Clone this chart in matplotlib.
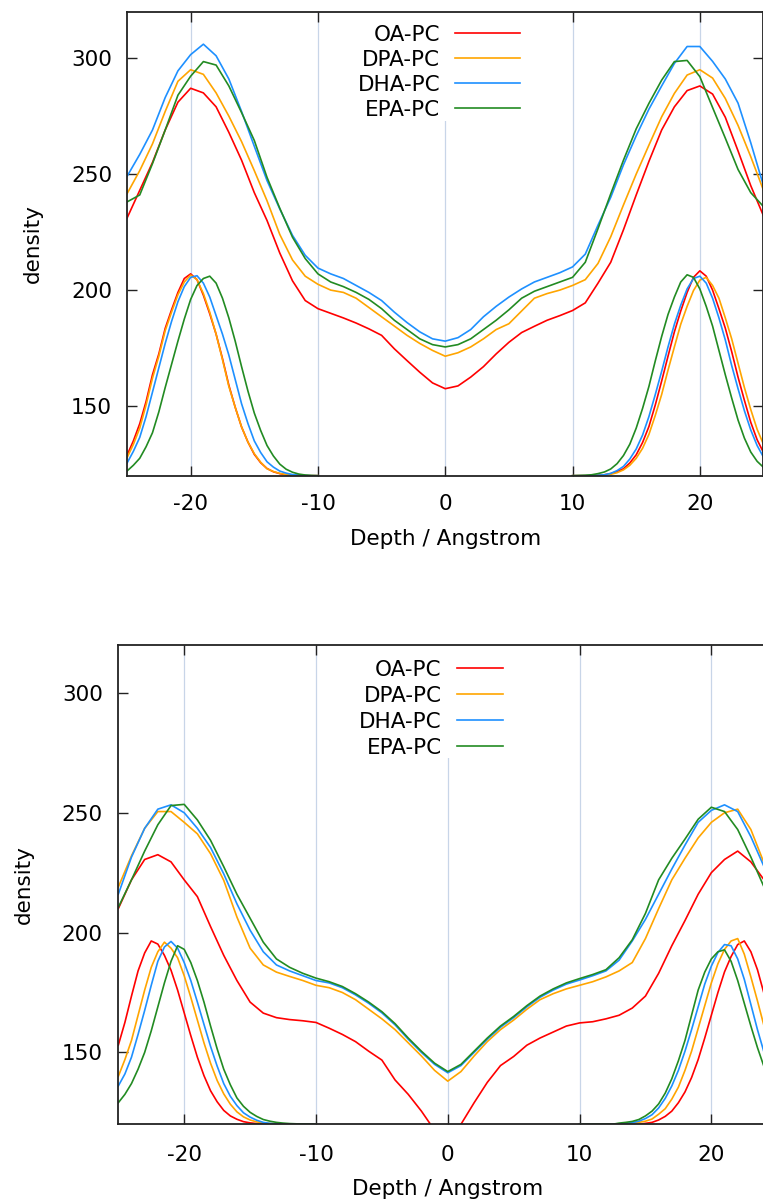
import matplotlib
matplotlib.use("Agg")
import matplotlib.pyplot as plt
from matplotlib.patches import Rectangle
import numpy as np

plt.rcParams['font.family'] = ['DejaVu Sans']
plt.rcParams['axes.unicode_minus'] = False

# depth grid (Angstrom) for the total-density profiles, 1 A steps
depth = np.arange(-25, 26)
# finer grids for the narrow headgroup peaks (0.5 A steps, each leaflet)
peak_left = np.arange(-25, -9.75, 0.5)
peak_right = np.arange(10, 25.25, 0.5)

labels = ['OA-PC', 'DPA-PC', 'DHA-PC', 'EPA-PC']
colors = ['#ff0000', '#ffa500', '#1e90ff', '#228b22']

# ---- upper panel: total density ----
top_oa = [231, 243, 255, 269, 281, 287, 285, 279, 268, 256,
          242, 230, 216, 204, 195.5, 192, 190, 188, 185.8, 183.3,
          180.5, 174.7, 169.6, 164.6, 160, 157.5, 158.7, 162.5, 167, 172.5,
          177.5, 181.7, 184.4, 187, 189, 191.2, 194.5, 203, 212, 226,
          241, 255.5, 269, 279, 286, 288, 284.5, 274.5, 260, 245, 232]
top_dpa = [241.5, 251.5, 263, 277, 290, 295, 293, 285, 275, 264,
           251.5, 238.5, 224, 213, 206, 202.5, 200, 199, 196.5, 192.5,
           188.5, 184.5, 180.5, 177, 174, 171.5, 173, 175.5, 179, 183,
           185.5, 191, 196.5, 198.5, 200, 202, 204.5, 211.5, 223, 236.7,
           250, 262.5, 274.7, 284.8, 292.7, 295, 291.4, 282.6, 271, 257.5, 243]
top_dha = [249, 258.5, 269, 283, 294.5, 301.5, 306, 301, 291, 277,
           262, 247.2, 235, 223.6, 215, 209.5, 207, 205, 202, 199,
           195.5, 190.5, 186, 182, 179, 178, 179.5, 183, 188.5, 193,
           197, 200.5, 203.5, 205.5, 207.5, 210, 215.5, 228, 240, 254,
           266.5, 278, 288, 297.7, 305, 305, 298.6, 291, 280.6, 263.5, 245]
top_epa = [238, 241, 254.5, 269, 284, 292.2, 298.5, 297, 288, 276.5,
           264.5, 248.6, 235.3, 222.8, 213.6, 207, 203.5, 201.5, 199, 196,
           192, 187, 183, 179, 176.5, 175.5, 176.5, 179, 183, 187,
           191.5, 196.5, 199.5, 201.5, 203.5, 205.5, 212, 226.5, 241.5, 256,
           269.5, 280.5, 290.5, 298.5, 299, 292, 278.7, 265.5, 252, 242, 236]

# ---- upper panel: headgroup peaks (left leaflet / right leaflet) ----
top_oa_pl = [128.8, 135, 142.4, 152, 163.5, 172.5, 183.5, 191.5, 199, 205,
             207, 204.5, 197.8, 189.8, 181, 170.5, 159, 149.5, 141, 134.5,
             129.2, 125.6, 123.1, 121.7, 120.9, 120.4, 120.2, 120.1, 120, 120, 120]
top_oa_pr = [120, 120, 120, 120, 120.1, 120.4, 120.9, 121.8, 123, 125.5,
             129, 134.3, 141.2, 150.5, 160.8, 171.5, 182, 191, 199, 205.5,
             208.3, 206, 200, 192, 183.6, 173.5, 162.5, 152.5, 143, 135.5, 130]
top_dpa_pl = [127.7, 133.5, 140.5, 150.5, 162, 171.5, 182.5, 190.5, 198, 203.5,
              206.5, 204.5, 198.5, 190.5, 181, 170, 158.5, 149.5, 141, 134.5,
              129.5, 125.8, 123, 121.8, 121, 120.5, 120.2, 120.1, 120, 120, 120]
top_dpa_pr = [120, 120, 120, 120, 120, 120.3, 120.6, 121.3, 122.5, 124.5,
              127.5, 131.8, 137.8, 146, 155, 165.5, 175.5, 185.3, 193, 199.8,
              204.3, 205.5, 202, 196.5, 188, 179, 168.5, 158, 148.5, 140, 133.5]
top_dha_pl = [125.4, 130.5, 136.5, 145.5, 156, 166.5, 177, 186.5, 195, 201.5,
              205.5, 206.2, 203, 197, 189, 181, 172, 161.5, 151, 142.5,
              135, 130, 126, 123.7, 122, 121.1, 120.5, 120.3, 120.1, 120, 120]
top_dha_pr = [120, 120, 120, 120.1, 120.2, 120.4, 121, 122.2, 124, 127.2,
              131.5, 137.5, 145.5, 155, 165, 175.5, 185.3, 193.5, 200.5, 205,
              206, 203, 196.5, 188, 178.5, 167.5, 157.5, 148, 139.7, 133, 128]
top_epa_pl = [122, 124.5, 127.5, 132.5, 138.5, 147.5, 158, 168, 178, 187.5,
              196, 202, 205, 206, 203, 196.5, 188, 178, 167, 156.5,
              147, 139.5, 133, 128.5, 125, 122.8, 121.5, 120.7, 120.3, 120.1, 120]
top_epa_pr = [120, 120.1, 120.2, 120.4, 120.9, 121.6, 122.9, 125.2, 128.7, 133.6,
              140.5, 149, 158.5, 169.5, 180, 189.5, 197, 203.5, 206.6, 205.5,
              200.5, 193, 184.5, 174, 163.5, 153.5, 144, 136.2, 130.2, 126.2, 123.6]

# ---- lower panel: total density ----
bot_oa = [210, 222, 230.5, 232.5, 229.5, 222, 215, 202.5, 190.5, 180,
          171, 166.4, 164.5, 163.7, 163.2, 162.5, 160.1, 157.5, 154.5, 150.5,
          146.8, 138.5, 132.5, 125.5, 117.5, 113, 120, 129, 137.5, 144.5,
          148.3, 153, 156, 158.5, 161, 162.3, 162.8, 164, 165.5, 168.5,
          173.5, 183, 194.5, 205, 216, 225, 230.5, 234, 229.5, 222, 214]
bot_dpa = [219, 232, 243.5, 250.5, 250.5, 246, 241.2, 232.9, 221.8, 206.5,
           193.5, 186.5, 183.5, 181.7, 180, 178, 177, 175, 172, 168,
           164, 159.5, 154, 148.5, 142.5, 138, 142, 148.5, 154.5, 159.5,
           163.5, 168, 172, 174.5, 176.5, 178, 179.5, 181.5, 184, 187.5,
           197.5, 210, 222, 231, 239.5, 246, 250, 251.5, 243, 229, 216]
bot_dha = [216, 231.5, 243.5, 251.5, 253.3, 250, 243.5, 235.5, 224.5, 212,
           201, 192, 186.5, 184, 182, 180, 179, 177, 174, 170.5,
           166.5, 161.5, 155.5, 150, 145, 141.5, 144.5, 150, 155.5, 160.5,
           164.5, 169, 173, 176, 178.5, 180.2, 182, 184, 188.5, 196.5,
           205.5, 216, 226.5, 236.5, 246, 251, 253.3, 250.5, 240, 227.5, 214]
bot_epa = [210.5, 222, 234, 245, 253, 253.5, 247, 238.5, 227.5, 216,
           206, 196, 189, 185.5, 183, 181, 179.5, 177.5, 174.5, 171,
           167, 162, 156, 150.5, 145.5, 142, 145, 150.5, 156, 161,
           165, 169.5, 173.5, 176.5, 179, 180.8, 182.5, 184.5, 189.5, 197,
           208, 222, 231, 239, 247.3, 252.3, 250.5, 243, 231.5, 219, 208]

# ---- lower panel: headgroup peaks ----
bot_oa_pl = [153, 162.5, 173.5, 184, 191.5, 196.5, 195.2, 190.5, 184.3, 176,
             166.5, 157, 148, 140.3, 134, 129.4, 125.8, 123.5, 122.1, 121.1,
             120.6, 120.3, 120.1] + [120] * 8
bot_oa_pr = [120] * 10 + [120.4, 120.8, 121.8, 123.3, 125.5, 129, 133.5, 139.5, 147, 156,
                          165.5, 175, 183.6, 190, 195, 196.5, 192, 184.5, 174.5, 163.5, 153]
bot_dpa_pl = [140, 147, 155, 165.5, 176, 185.5, 192, 196, 193.5, 189.5,
              182, 173, 163.5, 154, 145.5, 138.3, 132.7, 128.4, 125.2, 123.1,
              121.8, 121, 120.6, 120.3, 120.2, 120.1, 120, 120, 120, 120, 120]
bot_dpa_pr = [120] * 8 + [120.5, 120.8, 121.3, 122.2, 124.2, 126.5, 130.5, 135.5, 142.5, 150.5,
                          160, 169.5, 179, 187, 193, 196.5, 197.5, 191, 181.5, 171.5,
                          161, 151.5, 144]
bot_dha_pl = [136, 141, 148, 157.5, 167.5, 178, 188, 194, 196.3, 193.5,
              187.5, 180, 171, 161.7, 152.5, 144.3, 137, 131.7, 127.8, 124.8,
              123, 121.7, 120.8, 120.4, 120.2, 120.1, 120, 120, 120, 120, 120]
bot_dha_pr = [120] * 7 + [120.4, 120.7, 121.3, 122.4, 124, 126.8, 130.8, 136, 142.5, 150.5,
                          159.5, 169, 178.5, 186, 191.7, 195, 194.5, 189, 180.5, 170,
                          159.5, 150, 142.8, 137]
bot_epa_pl = [129, 132.5, 137, 143, 150, 159, 169, 179, 188, 194.5,
              193, 187.5, 180, 171, 161, 151.5, 143, 136.5, 131, 127.5,
              125, 123.3, 122, 121.3, 120.8, 120.5, 120.3, 120.2, 120.1, 120, 120]
bot_epa_pr = [120] * 6 + [120.5, 120.8, 121.2, 122, 123.5, 125.5, 128.5, 133, 139, 146.5,
                          155, 165.5, 176, 183.5, 189, 192, 192.8, 188, 180, 170.5,
                          161, 152, 144, 137.5, 132]

top_total = [top_oa, top_dpa, top_dha, top_epa]
top_peaks = [(top_oa_pl, top_oa_pr), (top_dpa_pl, top_dpa_pr),
             (top_dha_pl, top_dha_pr), (top_epa_pl, top_epa_pr)]
bot_total = [bot_oa, bot_dpa, bot_dha, bot_epa]
bot_peaks = [(bot_oa_pl, bot_oa_pr), (bot_dpa_pl, bot_dpa_pr),
             (bot_dha_pl, bot_dha_pr), (bot_epa_pl, bot_epa_pr)]

FS = 15.5
ink = '#222222'

fig = plt.figure(figsize=(7.63, 12.03), dpi=100)
ax1 = fig.add_axes([0.16645, 0.60457, 0.8342, 0.3857])
ax2 = fig.add_axes([0.15505, 0.06542, 0.8636, 0.39842])


def style_axes(ax, xpad, ypad, xlab_y, ylab_x):
    ax.set_xlim(-25, 25)
    ax.set_ylim(120, 320)
    ax.set_xticks([-20, -10, 0, 10, 20])
    ax.set_yticks([150, 200, 250, 300])
    ax.tick_params(direction='in', length=7, width=1.0, color=ink,
                   top=True, right=True, labelsize=FS, labelcolor='black')
    ax.tick_params(axis='x', pad=xpad)
    ax.tick_params(axis='y', pad=ypad)
    ax.grid(axis='x', color='#c8d5e8', linewidth=0.9)
    for sp in ax.spines.values():
        sp.set_linewidth(1.3)
        sp.set_color(ink)
    ax.set_xlabel('Depth / Angstrom', fontsize=FS)
    ax.set_ylabel('density', fontsize=FS)
    ax.xaxis.set_label_coords(0.5, xlab_y)
    ax.yaxis.set_label_coords(ylab_x, 0.5)


def draw_key(ax, text_x, line_x0, line_x1, line_y0, step, box):
    # opaque key box, gnuplot style
    ax.add_patch(Rectangle((box[0], box[1]), box[2], box[3], transform=ax.transAxes,
                           facecolor='white', edgecolor='none', zorder=1.8))
    for i, (lab, c) in enumerate(zip(labels, colors)):
        y = line_y0 - i * step
        ax.text(text_x, y, lab, ha='right', va='center_baseline', fontsize=FS,
                transform=ax.transAxes, zorder=3)
        ax.plot([line_x0, line_x1], [y, y], color=c, lw=1.2,
                transform=ax.transAxes, zorder=3)


for ax, totals, peaks in [(ax1, top_total, top_peaks), (ax2, bot_total, bot_peaks)]:
    for series, c in zip(totals, colors):
        ax.plot(depth, series, color=c, lw=1.2, zorder=2)
    for (left, right), c in zip(peaks, colors):
        ax.plot(peak_left, left, color=c, lw=1.2, zorder=2)
        ax.plot(peak_right, right, color=c, lw=1.2, zorder=2)

style_axes(ax1, xpad=13.0, ypad=10.8, xlab_y=-0.1155, ylab_x=-0.1328)
style_axes(ax2, xpad=15.0, ypad=11.2, xlab_y=-0.1148, ylab_x=-0.128)

draw_key(ax1, 0.4918, 0.5153, 0.6174, 0.9534, 0.05388, (0.36, 0.7645, 0.27, 0.2355))
draw_key(ax2, 0.4907, 0.514, 0.5841, 0.9514, 0.0538, (0.35, 0.764, 0.25, 0.236))

fig.savefig('out.png', dpi=100)
